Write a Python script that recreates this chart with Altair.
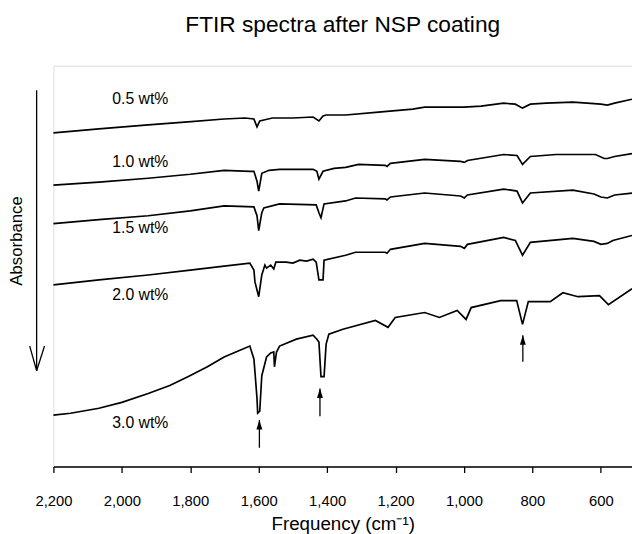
import altair as alt
import pandas as pd

# ---- data (absorbance in arbitrary units, offset per spectrum) ----
freq_05 = [2200, 2067, 1923, 1807, 1701, 1640, 1614, 1605, 1597, 1585, 1560, 1500, 1441, 1424, 1412, 1403,
           1346, 1250, 1150, 1115, 1000, 950, 884, 850, 829, 806, 760, 682, 640, 600, 581, 560, 509]
abs_05 = [0.68, 0.64, 0.60, 0.57, 0.54, 0.53, 0.54, 0.62, 0.56, 0.55, 0.53, 0.53, 0.52, 0.56, 0.51, 0.50,
          0.50, 0.47, 0.44, 0.42, 0.42, 0.41, 0.38, 0.39, 0.43, 0.39, 0.38, 0.37, 0.38, 0.39, 0.40, 0.38, 0.34]

freq_10 = [2200, 2067, 1923, 1800, 1701, 1625, 1614, 1605, 1600, 1591, 1570, 1539, 1441, 1430, 1424, 1412,
           1380, 1346, 1308, 1230, 1225, 1215, 1115, 1010, 999, 990, 884, 845, 829, 806, 731, 616, 590, 581,
           560, 509]
abs_10 = [1.21, 1.18, 1.14, 1.10, 1.06, 1.07, 1.07, 1.17, 1.27, 1.09, 1.06, 1.05, 1.05, 1.07, 1.15, 1.07,
          1.04, 1.03, 1.00, 1.01, 1.02, 0.99, 0.95, 0.97, 0.98, 0.96, 0.90, 0.91, 1.00, 0.92, 0.90, 0.90, 0.94,
          0.94, 0.92, 0.89]

freq_15 = [2200, 2067, 1923, 1800, 1701, 1614, 1605, 1600, 1591, 1585, 1539, 1432, 1424, 1418, 1409, 1346,
           1317, 1230, 1225, 1215, 1115, 1010, 999, 990, 884, 845, 829, 806, 682, 620, 600, 581, 560, 509]
abs_15 = [1.60, 1.56, 1.52, 1.47, 1.42, 1.43, 1.52, 1.67, 1.49, 1.44, 1.40, 1.41, 1.49, 1.54, 1.40, 1.37,
          1.34, 1.35, 1.36, 1.33, 1.29, 1.32, 1.34, 1.31, 1.25, 1.27, 1.39, 1.29, 1.26, 1.30, 1.33, 1.34, 1.31,
          1.29]

freq_20 = [2200, 2067, 1923, 1800, 1701, 1626, 1614, 1611, 1600, 1591, 1582, 1577, 1565, 1556, 1550, 1520,
           1500, 1480, 1460, 1441, 1432, 1424, 1412, 1409, 1346, 1317, 1230, 1225, 1215, 1115, 1010, 999, 990,
           884, 850, 829, 806, 682, 620, 600, 581, 565, 509]
abs_20 = [2.22, 2.17, 2.12, 2.07, 2.03, 2.00, 2.07, 2.19, 2.34, 2.12, 2.02, 2.05, 2.02, 2.06, 1.99, 1.99,
          2.00, 1.97, 1.98, 1.96, 1.99, 2.17, 2.17, 1.97, 1.92, 1.89, 1.89, 1.90, 1.86, 1.80, 1.83, 1.85, 1.81,
          1.74, 1.77, 1.92, 1.79, 1.75, 1.78, 1.81, 1.80, 1.77, 1.72]

freq_30 = [2200, 2150, 2100, 2067, 2000, 1923, 1860, 1807, 1750, 1701, 1660, 1626, 1614, 1611, 1605, 1603,
           1597, 1591, 1577, 1565, 1556, 1554, 1548, 1539, 1490, 1441, 1430, 1424, 1418, 1409, 1403, 1395,
           1354, 1259, 1222, 1201, 1115, 1072, 1020, 994, 979, 893, 846, 829, 812, 748, 711, 667, 604, 578, 509]
abs_30 = [3.54, 3.52, 3.49, 3.47, 3.41, 3.32, 3.24, 3.15, 3.05, 2.95, 2.89, 2.84, 2.97, 3.10, 3.37, 3.52,
          3.50, 3.14, 2.95, 2.91, 2.90, 3.05, 2.90, 2.84, 2.77, 2.73, 2.77, 2.80, 3.15, 3.15, 2.82, 2.72,
          2.67, 2.58, 2.65, 2.55, 2.50, 2.55, 2.48, 2.57, 2.45, 2.38, 2.38, 2.62, 2.39, 2.39, 2.30, 2.34,
          2.33, 2.42, 2.26]

series_names = ["0.5 wt%", "1.0 wt%", "1.5 wt%", "2.0 wt%", "3.0 wt%"]
label_freq = [2028, 2028, 2028, 2028, 2028]
label_abs = [0.34, 0.98, 1.64, 2.32, 3.62]

arrow_freq = [1598, 1421, 828]
arrow_tip = [3.59, 3.27, 2.73]
arrow_base = [3.87, 3.55, 3.00]

x_ticks = [2200, 2000, 1800, 1600, 1400, 1200, 1000, 800, 600]

# ---- build tables ----
rows = []
for name, fr, ab in zip(series_names, [freq_05, freq_10, freq_15, freq_20, freq_30],
                        [abs_05, abs_10, abs_15, abs_20, abs_30]):
    for i, (f, a) in enumerate(zip(fr, ab)):
        rows.append({"series": name, "freq": f, "abs": a, "idx": i})
spectra = pd.DataFrame(rows)
labels = pd.DataFrame({"series": series_names, "freq": label_freq, "abs": label_abs})
arrows = pd.DataFrame({"freq": arrow_freq, "tip": arrow_tip, "base": arrow_base})
one = pd.DataFrame({"k": [0]})

FONT = "Liberation Sans"

xscale = alt.Scale(domain=[509, 2200], reverse=True, nice=False, zero=False)
yscale = alt.Scale(domain=[0, 4.06], reverse=True, nice=False, zero=False)

xenc = alt.X("freq:Q", scale=xscale,
             axis=alt.Axis(values=x_ticks, format=",.0f", title="Frequency (cm⁻¹)",
                           labelFlush=False, labelOverlap=False, grid=False,
                           labelFontSize=15, labelFont=FONT, labelColor="black",
                           tickSize=6, tickColor="black", tickWidth=1.3,
                           domainColor="black", domainWidth=1.5,
                           labelPadding=21, titlePadding=7,
                           titleFontSize=19, titleFont=FONT, titleFontWeight="normal",
                           titleColor="black"))
yenc = alt.Y("abs:Q", scale=yscale,
             axis=alt.Axis(title="Absorbance", labels=False, ticks=False, domain=False, grid=False,
                           titleX=-37, titleY=177, titleAngle=270, titleBaseline="middle",
                           titleFontSize=17, titleFont=FONT, titleFontWeight="normal",
                           titleColor="black"))

lines = alt.Chart(spectra).mark_line(color="black", strokeWidth=1.7).encode(
    x=xenc, y=yenc, detail="series:N", order="idx:Q")

texts = alt.Chart(labels).mark_text(align="left", baseline="middle", fontSize=16, font=FONT,
                                    color="black").encode(
    x=alt.X("freq:Q", scale=xscale), y=alt.Y("abs:Q", scale=yscale), text="series:N")

arrow_shafts = alt.Chart(arrows).mark_rule(color="black", strokeWidth=1.3).encode(
    x=alt.X("freq:Q", scale=xscale), y=alt.Y("tip:Q", scale=yscale), y2="base:Q")
arrow_heads = alt.Chart(arrows).mark_point(shape="M0,0L0.5,1.6L-0.5,1.6Z", size=144, filled=True,
                                           color="black", opacity=1).encode(
    x=alt.X("freq:Q", scale=xscale), y=alt.Y("tip:Q", scale=yscale))

# big "Absorbance" arrow at the left, outside the plot area
big_shaft = alt.Chart(one).mark_rule(color="black", strokeWidth=1.3, clip=False).encode(
    x=alt.value(-17), y=alt.value(25), y2=alt.value(309))
big_head_l = alt.Chart(one).mark_rule(color="black", strokeWidth=1.3, clip=False).encode(
    x=alt.value(-24), x2=alt.value(-17), y=alt.value(284), y2=alt.value(309))
big_head_r = alt.Chart(one).mark_rule(color="black", strokeWidth=1.3, clip=False).encode(
    x=alt.value(-9), x2=alt.value(-17), y=alt.value(284), y2=alt.value(309))

chart = alt.layer(lines, texts, arrow_shafts, arrow_heads, big_shaft, big_head_l, big_head_r).properties(
    width=586, height=406,
    title=alt.Title("FTIR spectra after NSP coating", fontSize=23, font=FONT, fontWeight="normal",
                    color="black", anchor="middle", baseline="alphabetic", offset=11, frame="group"),
    autosize=alt.AutoSizeParams(type="none"),
    padding={"left": 46, "top": 55, "right": 0, "bottom": 70},
).configure_view(stroke="black", strokeWidth=1.5).configure(background="white")

chart.save("out.html", embed_options={"renderer": "svg", "actions": False})
